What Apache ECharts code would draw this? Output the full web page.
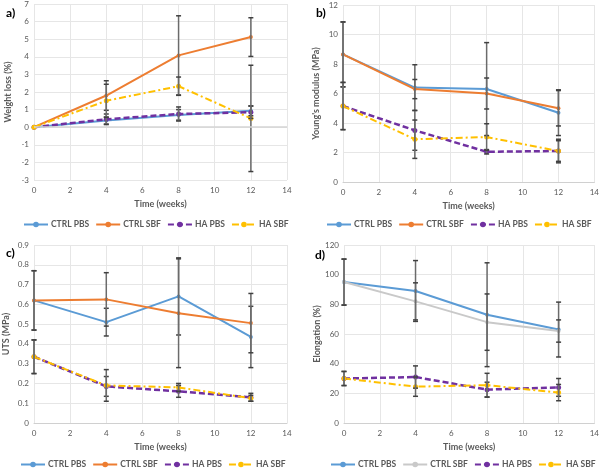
<!DOCTYPE html>
<html><head><meta charset="utf-8">
<script src="https://cdn.jsdelivr.net/npm/echarts@6/dist/echarts.min.js"></script>
<style>html,body{margin:0;padding:0;background:#fff}#c{width:602px;height:469px}</style>
</head><body><div id="c"></div><script>
const weeks = [0, 4, 8, 12];
const xTicks = [0, 2, 4, 6, 8, 10, 12, 14];
const legendNames = ['CTRL PBS', 'CTRL SBF', 'HA PBS', 'HA SBF'];

// a) Weight loss (%)
const aCtrlPbs = [0, 0.38, 0.7, 0.93];
const aCtrlPbsErr = [0, 0.2, 0.3, 0.28];
const aCtrlSbf = [0, 1.8, 4.08, 5.12];
const aCtrlSbfErr = [0, 0.84, 2.25, 1.1];
const aHaPbs = [0, 0.45, 0.75, 0.85];
const aHaPbsErr = [0, 0.3, 0.4, 0.35];
const aHaSbf = [0, 1.5, 2.33, 0.5];
const aHaSbfErr = [0, 0.94, 0.52, 3.02];

// b) Young's modulus (MPa)
const bCtrlPbs = [8.65, 6.4, 6.3, 4.7];
const bCtrlPbsErr = [2.2, 1.55, 3.15, 1.55];
const bCtrlSbf = [8.65, 6.3, 6.0, 5.0];
const bCtrlSbfErr = [2.2, 0.65, 1.05, 1.2];
const bHaPbs = [5.15, 3.5, 2.05, 2.1];
const bHaPbsErr = [1.6, 1.35, 0.15, 0.8];
const bHaSbf = [5.15, 2.9, 3.05, 2.1];
const bHaSbfErr = [1.6, 1.3, 0.9, 0.7];

// c) UTS (MPa)
const cCtrlPbs = [0.62, 0.51, 0.64, 0.435];
const cCtrlPbsErr = [0.15, 0.07, 0.195, 0.155];
const cCtrlSbf = [0.62, 0.625, 0.555, 0.505];
const cCtrlSbfErr = [0.15, 0.135, 0.275, 0.15];
const cHaPbs = [0.335, 0.185, 0.16, 0.13];
const cHaPbsErr = [0.085, 0.05, 0.03, 0.02];
const cHaSbf = [0.335, 0.19, 0.18, 0.125];
const cHaSbfErr = [0.085, 0.08, 0.02, 0.015];

// d) Elongation (%)
const dCtrlPbs = [95, 89, 73, 63];
const dCtrlPbsErr = [15.5, 20.5, 35, 18.5];
const dCtrlSbf = [95, 82, 68, 62];
const dCtrlSbfErr = [15.5, 12.5, 19, 7.5];
const dHaPbs = [30, 31, 22.5, 24];
const dHaPbsErr = [4.75, 7.5, 5, 6];
const dHaSbf = [30, 24.5, 25.5, 20.5];
const dHaSbfErr = [4.75, 6.5, 8, 5.5];

const FONT = 'Lato';
const TXT = '#595959';
const C = {blue:'#5B9BD5', orange:'#ED7D31', purple:'#7030A0', yellow:'#FFC000', gray:'#C9C9C9'};

const panels = [
  {key:'a', title:'a)', yName:'Weight loss (%)', yMin:-3, yMax:7, yInt:1, yGap:21,
   grid:{left:34, top:4, width:253, height:176}, titlePos:[1,2], legendTop:215, legendLeft:18,
   series:[[aCtrlPbs,aCtrlPbsErr],[aCtrlSbf,aCtrlSbfErr],[aHaPbs,aHaPbsErr],[aHaSbf,aHaSbfErr]], sbfColor:C.orange, zeroLine:true},
  {key:'b', title:'b)', yName:"Young's modulus (MPa)", yMin:0, yMax:12, yInt:2, yGap:22,
   grid:{left:343, top:5, width:254, height:177}, titlePos:[311,2], legendTop:215, legendLeft:321,
   series:[[bCtrlPbs,bCtrlPbsErr],[bCtrlSbf,bCtrlSbfErr],[bHaPbs,bHaPbsErr],[bHaSbf,bHaSbfErr]], sbfColor:C.orange},
  {key:'c', title:'c)', yName:'UTS (MPa)', yMin:0, yMax:0.9, yInt:0.1, yGap:23,
   grid:{left:34, top:245, width:253, height:178}, titlePos:[1,242], legendTop:455, legendLeft:15,
   series:[[cCtrlPbs,cCtrlPbsErr],[cCtrlSbf,cCtrlSbfErr],[cHaPbs,cHaPbsErr],[cHaSbf,cHaSbfErr]], sbfColor:C.orange},
  {key:'d', title:'d)', yName:'Elongation (%)', yMin:0, yMax:120, yInt:20, yGap:22,
   grid:{left:344, top:245, width:253, height:178}, titlePos:[310,244], legendTop:455, legendLeft:325,
   series:[[dCtrlPbs,dCtrlPbsErr],[dCtrlSbf,dCtrlSbfErr],[dHaPbs,dHaPbsErr],[dHaSbf,dHaSbfErr]], sbfColor:C.gray}
];

function errSeries(gi, vals, errs) {
  const data = [];
  weeks.forEach((w, i) => { if (errs[i] > 0) data.push([w, vals[i] - errs[i], vals[i] + errs[i]]); });
  return {
    type:'custom', xAxisIndex:gi, yAxisIndex:gi, z:4, silent:true, data:data,
    encode:{x:0, y:[1,2]},
    renderItem(params, api) {
      const x = api.value(0);
      const lo = api.coord([x, api.value(1)]);
      const hi = api.coord([x, api.value(2)]);
      const h = 2.5;
      const st = {stroke:'#6b6b6b', lineWidth:1.5};
      return {type:'group', children:[
        {type:'line', shape:{x1:lo[0], y1:lo[1], x2:hi[0], y2:hi[1]}, style:st},
        {type:'line', shape:{x1:lo[0]-h, y1:lo[1], x2:lo[0]+h, y2:lo[1]}, style:{stroke:'#404040', lineWidth:1.5}},
        {type:'line', shape:{x1:hi[0]-h, y1:hi[1], x2:hi[0]+h, y2:hi[1]}, style:{stroke:'#404040', lineWidth:1.5}}
      ]};
    }
  };
}

const option = {
  animation:false,
  textStyle:{fontFamily:FONT},
  title:[], grid:[], xAxis:[], yAxis:[], legend:[], series:[]
};

panels.forEach((p, gi) => {
  option.title.push({text:p.title, left:p.titlePos[0], top:p.titlePos[1],
    textStyle:{fontFamily:FONT, fontSize:12, fontWeight:'bold', color:'#000'}});
  option.grid.push(Object.assign({containLabel:false}, p.grid));
  option.xAxis.push({
    gridIndex:gi, type:'value', min:0, max:14, interval:2,
    name:'Time (weeks)', nameLocation:'middle', nameGap:20,
    nameTextStyle:{fontFamily:FONT, fontSize:9, fontWeight:'bold', color:TXT},
    axisLine:{show:!p.zeroLine, onZero:false, lineStyle:{color:'#d0d0d0', width:1}},
    axisTick:{show:false},
    axisLabel:{fontFamily:FONT, fontSize:8, color:TXT, margin:6},
    splitLine:{show:true, lineStyle:{color:'#e6e6e6', width:1}}
  });
  option.yAxis.push({
    gridIndex:gi, type:'value', min:p.yMin, max:p.yMax, interval:p.yInt,
    name:p.yName, nameLocation:'middle', nameGap:p.yGap,
    nameTextStyle:{fontFamily:FONT, fontSize:9, fontWeight:'bold', color:TXT},
    axisLine:{show:false}, axisTick:{show:false},
    axisLabel:{fontFamily:FONT, fontSize:8, color:TXT, margin:5},
    splitLine:{show:true, lineStyle:{color:'#e6e6e6', width:1}}
  });
  const names = legendNames.map(n => n + '|' + p.key);
  option.legend.push({
    data:names, left:p.legendLeft, top:p.legendTop, width:320, itemWidth:24, itemHeight:7, itemGap:6,
    formatter:n => n.split('|')[0],
    textStyle:{fontFamily:FONT, fontSize:8.5, fontWeight:'bold', color:TXT, padding:[0,0,0,-2]}
  });
  const styles = [
    {color:C.blue, type:'solid', width:2, sym:4},
    {color:p.sbfColor, type:'solid', width:2, sym:4},
    {color:C.purple, type:[6,3], width:2.5, sym:5},
    {color:C.yellow, type:[7,3,2,3], width:2, sym:5}
  ];
  p.series.forEach((s, si) => {
    const st = styles[si];
    const line = {
      type:'line', name:names[si], xAxisIndex:gi, yAxisIndex:gi, z:3,
      data:weeks.map((w, i) => [w, s[0][i]]),
      symbol:'circle', symbolSize:st.sym,
      lineStyle:{color:st.color, width:st.width, type:st.type},
      itemStyle:{color:st.color},
      emphasis:{disabled:true}
    };
    if (p.zeroLine && si === 0) {
      line.markLine = {silent:true, symbol:'none', label:{show:false},
        lineStyle:{color:'#d4d4d4', width:1.5, type:'solid'}, data:[{yAxis:0}]};
    }
    option.series.push(line);
    option.series.push(errSeries(gi, s[0], s[1]));
  });
});

const chart = echarts.init(document.getElementById('c'), null, {renderer:'canvas'});
chart.setOption(option);
</script></body></html>
